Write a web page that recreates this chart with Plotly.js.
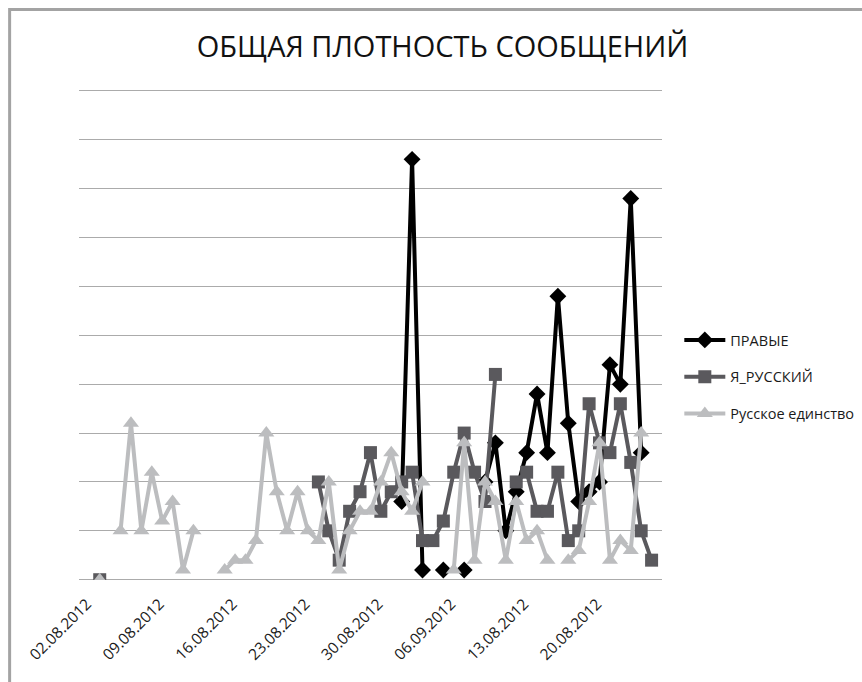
<!DOCTYPE html>
<html>
<head>
<meta charset="utf-8">
<script src="https://cdn.plot.ly/plotly-3.0.1.min.js"></script>
<style>html,body{margin:0;padding:0;background:#fff;}#chart{width:862px;height:682px;}</style>
</head>
<body>
<div id="chart"></div>
<script>
// Tick labels (shown every 7th category, as in the original)
const tickLabels = ['02.08.2012','09.08.2012','16.08.2012','23.08.2012','30.08.2012','06.09.2012','13.08.2012','20.08.2012'];
const tickEvery = 7;

// Series values per category (null = no data for that day)
const pravye = [null,null,null,null,null,null,null,null,null,null,
  null,null,null,null,null,null,null,null,null,null,
  null,null,null,null,null,null,null,null,null,8,
  43,1,null,1,null,1,null,10,14,5,
  9,13,19,13,29,16,8,9,10,22,
  20,39,13,null];
const yaRusskiy = [0,null,null,null,null,null,null,null,null,null,
  null,null,null,null,null,null,null,null,null,null,
  null,10,5,2,7,9,13,7,9,10,
  11,4,4,6,11,15,11,8,21,null,
  10,11,7,7,11,4,5,18,14,13,
  18,12,5,2];
const russkoeEdinstvo = [0,null,5,16,5,11,6,8,1,5,
  null,null,1,2,2,4,15,9,5,9,
  5,4,10,1,5,7,7,10,13,9,
  7,10,null,null,1,14,2,10,8,2,
  8,4,5,2,null,2,3,8,14,2,
  4,3,15,null];

const idx = pravye.map((_, i) => i);
const tickvals = tickLabels.map((_, i) => i * tickEvery);

const font = 'Open Sans, Noto Sans, sans-serif';
const traces = [
  {name:'ПРАВЫЕ', y:pravye, color:'#000000', symbol:'diamond', size:13},
  {name:'Я_РУССКИЙ', y:yaRusskiy, color:'#5a595d', symbol:'square', size:13},
  {name:'Русское единство', y:russkoeEdinstvo, color:'#bcbdbf', symbol:'triangle-up', size:14}
].map((t, k) => ({
  type:'scatter', mode:'lines+markers', x:idx, y:t.y, name:t.name,
  legendgroup:'g'+k,
  line:{color:t.color, width:4},
  marker:{color:t.color, symbol:t.symbol, size:t.size},
  connectgaps:false, hoverinfo:'skip'
}));

// plot-area edges in pixels
const L = 79.3, R = 661.7, T = 88.4, B = 579.6;
const px = p => (p - L) / (R - L);
const py = p => (B - p) / (B - T);

const layout = {
  width:862, height:682,
  margin:{l:L, r:862-R, t:T, b:682-B, pad:0, autoexpand:false},
  paper_bgcolor:'#ffffff', plot_bgcolor:'#ffffff',
  showlegend:true,
  title:{text:'ОБЩАЯ ПЛОТНОСТЬ СООБЩЕНИЙ', font:{family:font, size:29, color:'#111111'},
    x:442.5/862, xref:'container', xanchor:'center', y:1-47/682, yref:'container', yanchor:'middle'},
  xaxis:{range:[-1.99, 54.0], tickmode:'array', tickvals:tickvals, ticktext:tickLabels,
    tickangle:-45, showgrid:false, zeroline:false, showline:false, ticks:'', automargin:false,
    ticklabelstandoff:11, ticklabelshift:-13,
    tickfont:{family:font, size:15.5, color:'#1a1a1a'}, fixedrange:true},
  yaxis:{range:[-0.03,50.3], dtick:5, tick0:0, showticklabels:false, showgrid:true, automargin:false,
    gridcolor:'#ababab', gridwidth:1, zeroline:true, zerolinecolor:'#ababab', zerolinewidth:1,
    showline:false, ticks:'', fixedrange:true},
  legend:{x:px(679), xanchor:'left', y:py(324), yanchor:'top', bgcolor:'rgba(0,0,0,0)',
    font:{family:font, size:14.5, color:'#1a1a1a'}, tracegroupgap:15, itemwidth:41},
  shapes:[{type:'rect', xref:'paper', yref:'paper', x0:px(10), x1:px(900), y0:py(720), y1:py(10),
    line:{color:'#a3a3a3', width:3}, fillcolor:'rgba(0,0,0,0)', layer:'below'}]
};

Plotly.newPlot('chart', traces, layout, {displayModeBar:false, staticPlot:true});
</script>
</body>
</html>
